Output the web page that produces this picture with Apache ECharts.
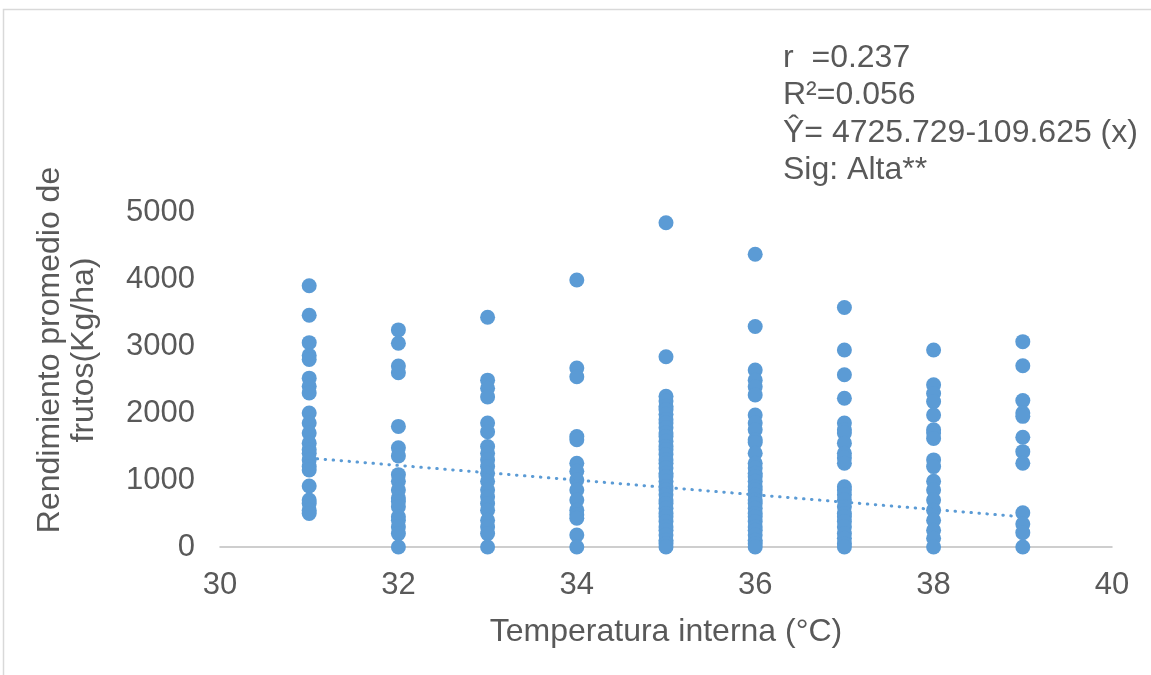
<!DOCTYPE html>
<html><head><meta charset="utf-8">
<script src="https://cdn.jsdelivr.net/npm/echarts@6/dist/echarts.min.js"></script>
<style>html,body{margin:0;padding:0;background:#fff}#c{width:1151px;height:675px}</style>
</head><body><div id="c"></div>
<script>
const temps = [31, 32, 33, 34, 35, 36, 37, 38, 39];
const y31 = [3900, 3460, 3050, 2860, 2800, 2520, 2400, 2300, 2000, 1850, 1700, 1550, 1450, 1400, 1300, 1200, 1150, 910, 700, 650, 550, 500];
const y32 = [3240, 3040, 2700, 2600, 1800, 1480, 1360, 1080, 980, 850, 730, 680, 600, 450, 400, 300, 200, 0];
const y33 = [3430, 2490, 2370, 2240, 1850, 1720, 1500, 1400, 1300, 1200, 1100, 980, 850, 750, 650, 550, 400, 300, 200, 0];
const y34 = [3985, 2670, 2540, 1650, 1600, 1250, 1130, 1000, 850, 700, 550, 480, 430, 180, 0];
const y35 = [4840, 2840, 2250, 2180, 2100, 2050, 1980, 1900, 1850, 1780, 1700, 1650, 1580, 1500, 1450, 1380, 1300, 1250, 1180, 1100, 1050, 980, 900, 850, 780, 700, 650, 580, 500, 450, 380, 300, 250, 180, 100, 50, 0];
const y36 = [4370, 3290, 2640, 2490, 2390, 2270, 1970, 1850, 1750, 1600, 1560, 1400, 1250, 1180, 1100, 1050, 980, 900, 850, 780, 700, 650, 580, 500, 450, 380, 300, 250, 180, 100, 50, 0];
const y37 = [3575, 2940, 2570, 2220, 1850, 1750, 1700, 1550, 1400, 1330, 1250, 900, 850, 780, 700, 600, 500, 450, 380, 300, 200, 130, 50, 0];
const y38 = [2940, 2420, 2290, 2170, 1970, 1750, 1700, 1620, 1300, 1200, 980, 850, 700, 550, 400, 250, 130, 0];
const y39 = [3065, 2706, 2185, 2000, 1950, 1637, 1423, 1250, 512, 343, 214, 0];
const columns = [y31, y32, y33, y34, y35, y36, y37, y38, y39];
const trendIntercept = 4725.729, trendSlope = -109.625;
const trendX = [31, 39];
const xTicks = [30, 32, 34, 36, 38, 40];
const yTicks = [0, 1000, 2000, 3000, 4000, 5000];
const annotation = ['r  =0.237', 'R²=0.056', 'Ŷ= 4725.729-109.625 (x)', 'Sig: Alta**'];

const pts = [];
columns.forEach((col, i) => col.forEach(v => pts.push([temps[i], v])));
const trend = trendX.map(x => [x, trendIntercept + trendSlope * x]);

const chart = echarts.init(document.getElementById('c'), null, {renderer: 'canvas'});
const font = 'Liberation Sans, Arial, sans-serif';
chart.setOption({
  animation: false,
  backgroundColor: '#fff',
  grid: {left: 220, right: 39, top: 212, bottom: 128},
  xAxis: {
    type: 'value', min: xTicks[0], max: xTicks[xTicks.length - 1], interval: 2,
    axisLine: {show: true, lineStyle: {color: '#BFBFBF', width: 1.5}},
    axisTick: {show: false}, splitLine: {show: false},
    axisLabel: {color: '#595959', fontSize: 31, fontFamily: font, margin: 23, formatter: v => String(v)}
  },
  yAxis: {
    type: 'value', min: yTicks[0], max: yTicks[yTicks.length - 1], interval: 1000,
    axisLine: {show: false}, axisTick: {show: false}, splitLine: {show: false},
    axisLabel: {color: '#595959', fontSize: 31, fontFamily: font, margin: 25, formatter: v => String(v)}
  },
  series: [
    {type: 'scatter', data: pts, symbolSize: 15, itemStyle: {color: '#5B9BD5', opacity: 1}, z: 2},
    {type: 'line', data: trend, symbol: 'none', lineStyle: {color: '#5B9BD5', width: 3, type: [0.5, 7.5], cap: 'round'}, z: 3}
  ],
  graphic: [
    {type: 'rect', shape: {x: 3.5, y: 9.5, width: 1200, height: 700}, style: {fill: 'none', stroke: '#D9D9D9', lineWidth: 1.5}, silent: true},
    {type: 'text', x: 666, y: 632, style: {text: 'Temperatura interna (°C)', fill: '#595959', font: '32px ' + font, textAlign: 'center', textVerticalAlign: 'middle'}},
    {type: 'text', x: 50, y: 350, rotation: Math.PI / 2, style: {text: 'Rendimiento promedio de', fill: '#595959', font: '32px ' + font, textAlign: 'center', textVerticalAlign: 'middle'}},
    {type: 'text', x: 84, y: 350, rotation: Math.PI / 2, style: {text: 'frutos(Kg/ha)', fill: '#595959', font: '32px ' + font, textAlign: 'center', textVerticalAlign: 'middle'}},
    ...annotation.map((t, i) => ({type: 'text', x: 783, y: 58 + i * 37.5, style: {text: t, fill: '#595959', font: '32px ' + font, textAlign: 'left', textVerticalAlign: 'middle'}}))
  ]
});
</script></body></html>
